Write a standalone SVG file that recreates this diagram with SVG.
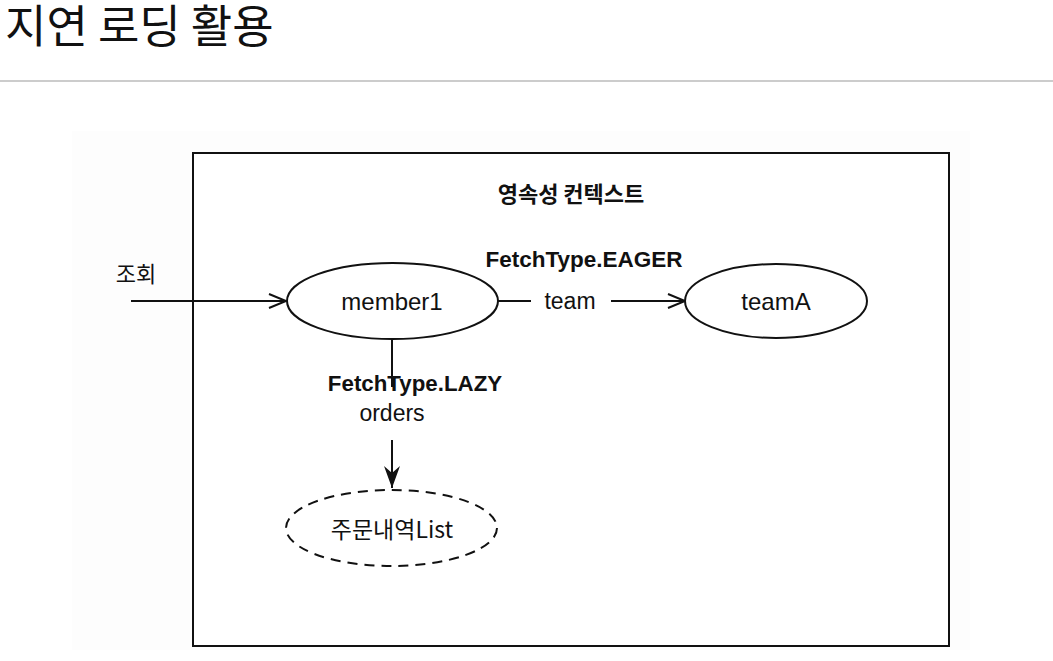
<svg xmlns="http://www.w3.org/2000/svg" width="1053" height="661" viewBox="0 0 1053 661">
<style>
text{font-family:"Liberation Sans","Noto Sans CJK KR",sans-serif;fill:#111;dominant-baseline:central;text-anchor:middle}
.ko{font-family:"Noto Sans CJK KR","Liberation Sans",sans-serif}
.b{font-weight:bold}
.lbl{font-size:23px}
.node{fill:#fff;stroke:#111;stroke-width:2}
.edge{fill:none;stroke:#111;stroke-width:2}
</style>
<defs>
<marker id="open" markerWidth="20" markerHeight="16" refX="18" refY="8" orient="auto" markerUnits="userSpaceOnUse">
<path d="M1,1 L18,8 L1,15" fill="none" stroke="#111" stroke-width="2"/>
</marker>
<marker id="fill" markerWidth="18" markerHeight="26" refX="9" refY="24" orient="0" markerUnits="userSpaceOnUse">
<path d="M1,2 L9,9 L17,2 L9,24 Z" fill="#111"/>
</marker>
</defs>
<rect width="1053" height="661" fill="#fff"/>
<text class="ko" x="5" y="43" style="text-anchor:start;dominant-baseline:alphabetic;font-size:45px">지연 로딩 활용</text>
<line x1="0" y1="81" x2="1053" y2="81" stroke="#cccccc" stroke-width="2"/>
<rect x="72" y="131" width="898" height="519" fill="#fdfdfd"/>
<g id="context">
<rect x="193" y="153" width="756" height="493" fill="#fff" stroke="#111" stroke-width="2"/>
<text class="ko b" x="571" y="192" style="font-size:22px">영속성 컨텍스트</text>
</g>
<g id="connectors">
<line class="edge" x1="131" y1="301" x2="286" y2="301" marker-end="url(#open)"/>
<text class="ko" x="136" y="272" style="font-size:22px">조회</text>
<line class="edge" x1="498" y1="301" x2="531" y2="301"/>
<text class="lbl" x="570" y="301">team</text>
<line class="edge" x1="611" y1="301" x2="685" y2="301" marker-end="url(#open)"/>
<text class="b" x="584" y="259" style="font-size:22.5px">FetchType.EAGER</text>
<line class="edge" x1="392" y1="339" x2="392" y2="387"/>
<text class="b" x="415" y="383" style="font-size:22.3px">FetchType.LAZY</text>
<text class="lbl" x="392" y="413">orders</text>
<line class="edge" x1="392" y1="440" x2="392" y2="488" marker-end="url(#fill)"/>
</g>
<g id="member1">
<ellipse class="node" cx="392.5" cy="301" rx="105.5" ry="38"/>
<text x="392" y="301" style="font-size:24px">member1</text>
</g>
<g id="teamA">
<ellipse class="node" cx="776" cy="301" rx="91" ry="37"/>
<text x="776" y="301" style="font-size:24px">teamA</text>
</g>
<g id="orderList">
<ellipse class="node" cx="391.5" cy="528" rx="105.5" ry="38" stroke-dasharray="10,7"/>
<text class="ko" x="392" y="528" style="font-size:23px">주문내역List</text>
</g>
</svg>
